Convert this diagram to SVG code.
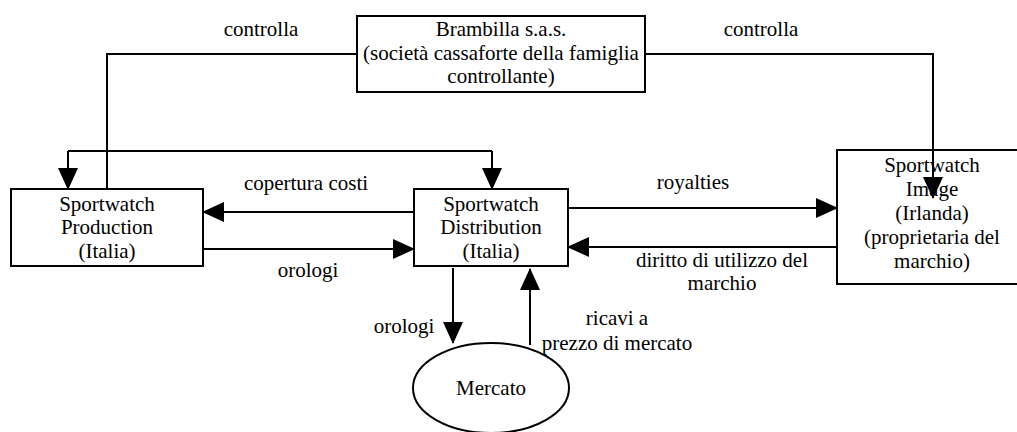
<svg xmlns="http://www.w3.org/2000/svg" width="1017" height="432" viewBox="0 0 1017 432">
<style>
.box{fill:#fff;stroke:#000;stroke-width:2}
.ln{fill:none;stroke:#000;stroke-width:2}
.arr{marker-end:url(#ah)}
text{font-family:'Liberation Serif','Times New Roman',Tinos,'DejaVu Serif',serif;font-size:21px;fill:#000;text-anchor:middle}
</style>
<defs>
<marker id="ah" markerUnits="userSpaceOnUse" markerWidth="22" markerHeight="22" refX="21" refY="11" orient="auto" viewBox="0 0 22 22">
<path d="M0,1 L22,11 L0,21 z" fill="#000"/>
</marker>
</defs>
<rect width="1017" height="432" fill="#fff"/>
<g id="brambilla">
<rect class="box" x="357" y="16" width="288" height="76"/>
<text x="501" y="36">Brambilla s.a.s.</text>
<text x="501" y="60">(società cassaforte della famiglia</text>
<text x="501" y="83">controllante)</text>
</g>
<g id="production">
<rect class="box" x="11" y="189" width="192" height="77"/>
<text x="107" y="211">Sportwatch</text>
<text x="107" y="234">Production</text>
<text x="107" y="258">(Italia)</text>
</g>
<g id="distribution">
<rect class="box" x="414" y="189" width="154" height="77"/>
<text x="491" y="211">Sportwatch</text>
<text x="491" y="234">Distribution</text>
<text x="491" y="258">(Italia)</text>
</g>
<g id="image">
<rect class="box" x="837" y="150" width="200" height="134"/>
<text x="932" y="172">Sportwatch</text>
<text x="932" y="196">Image</text>
<text x="932" y="220">(Irlanda)</text>
<text x="932" y="244">(proprietaria del</text>
<text x="932" y="268">marchio)</text>
</g>
<g id="mercato">
<ellipse class="box" cx="491" cy="388" rx="78" ry="45"/>
<text x="491" y="395">Mercato</text>
</g>
<g id="connectors">
<path class="ln" d="M357,54 H107 V189"/>
<path class="ln arr" d="M645,54 H933 V198"/>
<path class="ln" d="M68,151 H492"/>
<path class="ln arr" d="M68,151 V189"/>
<path class="ln arr" d="M492,151 V189"/>
<path class="ln arr" d="M414,212 H203"/>
<path class="ln arr" d="M203,249 H414"/>
<path class="ln arr" d="M568,208 H837"/>
<path class="ln arr" d="M837,247 H568"/>
<path class="ln arr" d="M453,268 V343"/>
<path class="ln arr" d="M530,345 V269"/>
</g>
<g id="labels">
<text x="261" y="36">controlla</text>
<text x="761" y="36">controlla</text>
<text x="306" y="190">copertura costi</text>
<text x="308" y="277">orologi</text>
<text x="693" y="189">royalties</text>
<text x="722" y="267">diritto di utilizzo del</text>
<text x="722" y="290">marchio</text>
<text x="404" y="333">orologi</text>
<text x="617" y="325">ricavi a</text>
<text x="617" y="350">prezzo di mercato</text>
</g>
</svg>
